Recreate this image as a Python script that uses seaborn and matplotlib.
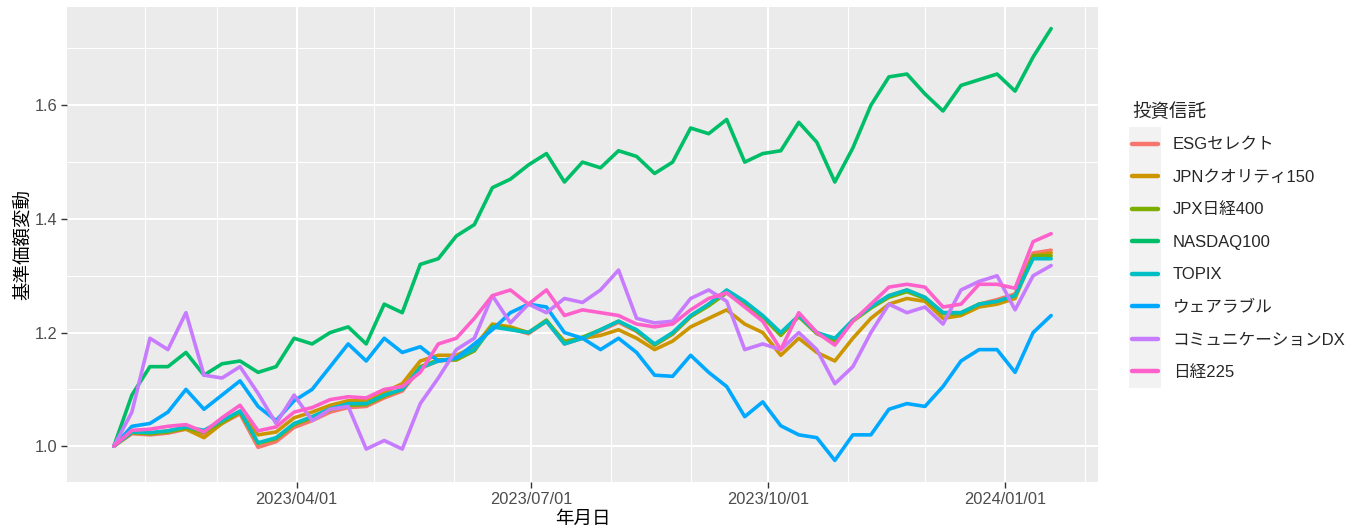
import numpy as np
import pandas as pd
import matplotlib
matplotlib.use("Agg")
import matplotlib.pyplot as plt
import matplotlib.dates as mdates
from matplotlib.ticker import MultipleLocator, FormatStrFormatter
from matplotlib.patches import Rectangle
import seaborn as sns

# ---------------- data (weekly readings, start = 1.0) ----------------
start_date = "2023-01-20"
n_weeks = 53

funds = ["ESGセレクト", "JPNクオリティ150", "JPX日経400", "NASDAQ100",
         "TOPIX", "ウェアラブル", "コミュニケーションDX", "日経225"]
colors = ["#F8766D", "#CD9600", "#7CAE00", "#00BE67",
          "#00BFC4", "#00A9FF", "#C77CFF", "#FF61CC"]

esg = [1.000, 1.022, 1.020, 1.023, 1.030, 1.022, 1.040, 1.057, 0.998, 1.008,
       1.033, 1.045, 1.060, 1.068, 1.070, 1.085, 1.097, 1.137, 1.150, 1.152,
       1.168, 1.212, 1.207, 1.198, 1.220, 1.180, 1.190, 1.203, 1.218, 1.202,
       1.178, 1.197, 1.228, 1.250, 1.273, 1.252, 1.228, 1.197, 1.230, 1.200,
       1.187, 1.222, 1.245, 1.265, 1.275, 1.262, 1.235, 1.235, 1.250, 1.258,
       1.268, 1.340, 1.345]
jpn_quality = [1.000, 1.025, 1.022, 1.027, 1.030, 1.015, 1.040, 1.060, 1.020, 1.025,
               1.050, 1.060, 1.072, 1.080, 1.080, 1.095, 1.110, 1.150, 1.160, 1.160,
               1.175, 1.215, 1.210, 1.200, 1.220, 1.185, 1.190, 1.195, 1.205, 1.190,
               1.170, 1.185, 1.210, 1.225, 1.240, 1.215, 1.200, 1.160, 1.190, 1.165,
               1.150, 1.190, 1.225, 1.250, 1.260, 1.255, 1.225, 1.230, 1.245, 1.250,
               1.260, 1.335, 1.340]
jpx400 = [1.000, 1.024, 1.022, 1.025, 1.032, 1.024, 1.042, 1.060, 1.005, 1.013,
          1.038, 1.050, 1.064, 1.072, 1.073, 1.088, 1.100, 1.140, 1.152, 1.152,
          1.168, 1.212, 1.207, 1.200, 1.222, 1.182, 1.192, 1.205, 1.220, 1.203,
          1.178, 1.198, 1.228, 1.247, 1.270, 1.250, 1.227, 1.195, 1.228, 1.198,
          1.185, 1.220, 1.243, 1.262, 1.272, 1.260, 1.233, 1.233, 1.250, 1.255,
          1.265, 1.335, 1.335]
nasdaq100 = [1.000, 1.090, 1.140, 1.140, 1.165, 1.125, 1.145, 1.150, 1.130, 1.140,
             1.190, 1.180, 1.200, 1.210, 1.180, 1.250, 1.235, 1.320, 1.330, 1.370,
             1.390, 1.455, 1.470, 1.495, 1.515, 1.465, 1.500, 1.490, 1.520, 1.510,
             1.480, 1.500, 1.560, 1.550, 1.575, 1.500, 1.515, 1.520, 1.570, 1.535,
             1.465, 1.525, 1.600, 1.650, 1.655, 1.620, 1.590, 1.635, 1.645, 1.655,
             1.625, 1.685, 1.735]
topix = [1.000, 1.025, 1.024, 1.027, 1.034, 1.028, 1.045, 1.062, 1.006, 1.015,
         1.040, 1.052, 1.066, 1.075, 1.075, 1.090, 1.100, 1.138, 1.150, 1.155,
         1.170, 1.210, 1.205, 1.200, 1.220, 1.180, 1.190, 1.205, 1.220, 1.205,
         1.180, 1.200, 1.230, 1.250, 1.275, 1.255, 1.230, 1.200, 1.230, 1.200,
         1.190, 1.222, 1.245, 1.265, 1.275, 1.262, 1.235, 1.235, 1.250, 1.255,
         1.265, 1.330, 1.330]
wearable = [1.000, 1.035, 1.040, 1.060, 1.100, 1.065, 1.090, 1.115, 1.070, 1.045,
            1.080, 1.100, 1.140, 1.180, 1.150, 1.190, 1.165, 1.175, 1.150, 1.155,
            1.180, 1.205, 1.235, 1.250, 1.245, 1.200, 1.190, 1.170, 1.190, 1.165,
            1.125, 1.123, 1.160, 1.130, 1.105, 1.052, 1.078, 1.036, 1.020, 1.015,
            0.975, 1.020, 1.020, 1.065, 1.075, 1.070, 1.105, 1.150, 1.170, 1.170,
            1.130, 1.200, 1.230]
comm_dx = [1.000, 1.060, 1.190, 1.170, 1.235, 1.125, 1.120, 1.140, 1.093, 1.040,
           1.090, 1.045, 1.065, 1.070, 0.995, 1.010, 0.995, 1.075, 1.120, 1.170,
           1.190, 1.265, 1.217, 1.250, 1.235, 1.260, 1.253, 1.275, 1.310, 1.225,
           1.217, 1.220, 1.260, 1.275, 1.255, 1.170, 1.180, 1.170, 1.200, 1.170,
           1.110, 1.140, 1.200, 1.250, 1.235, 1.245, 1.215, 1.275, 1.290, 1.300,
           1.240, 1.300, 1.318]
nikkei225 = [1.000, 1.028, 1.030, 1.035, 1.038, 1.025, 1.050, 1.072, 1.027, 1.034,
             1.060, 1.068, 1.082, 1.087, 1.085, 1.100, 1.105, 1.130, 1.180, 1.190,
             1.225, 1.265, 1.275, 1.250, 1.275, 1.230, 1.240, 1.235, 1.230, 1.215,
             1.210, 1.215, 1.240, 1.260, 1.270, 1.245, 1.220, 1.170, 1.235, 1.200,
             1.178, 1.220, 1.250, 1.280, 1.285, 1.280, 1.245, 1.250, 1.285, 1.285,
             1.278, 1.360, 1.374]

series = [esg, jpn_quality, jpx400, nasdaq100, topix, wearable, comm_dx, nikkei225]

x_title = "年月日"
y_title = "基準価額変動"
legend_title = "投資信託"

# ---------------- build long table ----------------
dates = pd.date_range(start_date, periods=n_weeks, freq="7D")
frames = []
for name, vals in zip(funds, series):
    frames.append(pd.DataFrame({"date": dates, "value": vals, "fund": name}))
df = pd.concat(frames, ignore_index=True)

# ---------------- style ----------------
sns.set_theme(style="darkgrid")
plt.rcParams["font.family"] = ["Liberation Sans", "Noto Sans CJK JP", "DejaVu Sans"]

fig = plt.figure(figsize=(13.6, 5.31), dpi=100)
ax = fig.add_axes([67 / 1360, 49 / 531, (1098 - 67) / 1360, (482 - 7) / 531])
ax.set_facecolor("#EBEBEB")
for s in ax.spines.values():
    s.set_visible(False)

sns.lineplot(data=df, x="date", y="value", hue="fund", hue_order=funds,
             palette=colors, linewidth=2.6, ax=ax, legend=True)

# limits with ggplot-like 5% expansion
dmin, dmax = df["date"].min(), df["date"].max()
span = dmax - dmin
ax.set_xlim(dmin - span * 0.05, dmax + span * 0.05)
vmin, vmax = df["value"].min(), df["value"].max()
vr = vmax - vmin
ax.set_ylim(vmin - vr * 0.05, vmax + vr * 0.05)

ax.xaxis.set_major_locator(mdates.MonthLocator(bymonth=[1, 4, 7, 10]))
ax.xaxis.set_minor_locator(mdates.MonthLocator())
ax.xaxis.set_major_formatter(mdates.DateFormatter("%Y/%m/%d"))
ax.yaxis.set_major_locator(MultipleLocator(0.2))
ax.yaxis.set_minor_locator(MultipleLocator(0.1))
ax.yaxis.set_major_formatter(FormatStrFormatter("%.1f"))

ax.grid(which="major", color="white", linewidth=1.5)
ax.grid(which="minor", color="white", linewidth=0.75)
ax.set_axisbelow(True)

ax.tick_params(axis="both", which="major", length=4, width=1.0, color="#333333",
               labelsize=11.8, labelcolor="#4D4D4D", pad=3, bottom=True, left=True)
ax.tick_params(axis="both", which="minor", length=0)

ax.set_xlabel(x_title, fontsize=13.3, color="black", labelpad=3)
ax.set_ylabel(y_title, fontsize=13.3, color="black", labelpad=2)

# ---------------- legend ----------------
handles, labels = ax.get_legend_handles_labels()
ax.get_legend().remove()
leg = fig.legend(handles, labels, title=legend_title, loc="upper left",
                 bbox_to_anchor=(1132 / 1360, 1 - 102 / 531), frameon=False,
                 fontsize=12, title_fontsize=13.3, handlelength=1.55,
                 handletextpad=0.9, labelspacing=1.05, borderpad=0,
                 borderaxespad=0, alignment="left")
for line in leg.get_lines():
    line.set_linewidth(3.2)

fig.canvas.draw()
renderer = fig.canvas.get_renderer()
bbs = [h.get_window_extent(renderer) for h in leg.get_lines()]
x0 = min(b.x0 for b in bbs) - 3
x1 = max(b.x1 for b in bbs) + 3
ys = [0.5 * (b.y0 + b.y1) for b in bbs]
step = (max(ys) - min(ys)) / (len(ys) - 1)
y0 = min(ys) - step / 2
y1 = max(ys) + step / 2
W, H = fig.get_size_inches() * fig.dpi
fig.patches.append(Rectangle((x0 / W, y0 / H), (x1 - x0) / W, (y1 - y0) / H,
                             transform=fig.transFigure, facecolor="#F2F2F2",
                             edgecolor="none", zorder=1))

fig.savefig("out.png", dpi=100, facecolor="white")
